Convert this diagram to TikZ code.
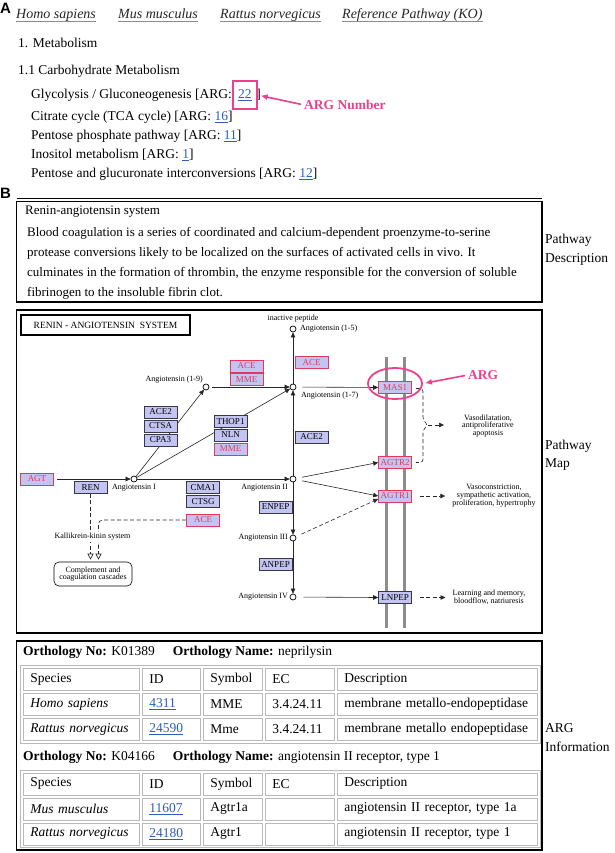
\documentclass[tikz,border=0pt]{standalone}
\usepackage{fontspec}
\setmainfont{Liberation Serif}
\newfontfamily\hdsans{Liberation Sans}
\usetikzlibrary{arrows.meta,backgrounds,fit,calc,shapes.geometric}
\definecolor{argpink}{RGB}{236,64,140}
\definecolor{argred}{RGB}{226,56,92}
\definecolor{enzfill}{RGB}{196,196,242}
\definecolor{enzline}{RGB}{55,55,75}
\definecolor{linkblue}{RGB}{45,95,185}
\definecolor{cellgray}{RGB}{185,185,185}
\definecolor{membrane}{RGB}{140,140,140}
\newcommand{\fsz}[1]{\fontsize{#1}{#1}\selectfont}
\newcommand{\lnk}[1]{\textcolor{linkblue}{\underline{#1}}}
\begin{document}
\begin{tikzpicture}[x=1pt,y=-1pt,
  every node/.style={inner sep=0pt},
  body/.style={anchor=base west,font=\fsz{13.5}},
  hdr/.style={anchor=base west,font=\fsz{14}\itshape,text=black!85},
  hline/.style={draw=black!45,line width=1pt},
  sec/.style={anchor=north west,font=\hdsans\bfseries\fsz{15}},
  panel/.style={draw=black,line width=1.8pt},
  side/.style={anchor=west,font=\fsz{13.5}},
  enz/.style={draw=enzline,fill=enzfill,line width=0.6pt,minimum width=33pt,minimum height=12pt,font=\fsz{9}},
  argenz/.style={enz,draw=argred,text=argred},
  cpd/.style={circle,draw=black,fill=white,line width=0.7pt,minimum size=6pt},
  clbl/.style={font=\fsz{8}},
  rx/.style={draw=black!85,line width=0.6pt,-{Triangle[length=5pt,width=4.5pt]}},
  dsh/.style={draw=black!85,line width=0.6pt,dash pattern=on 4pt off 2.5pt},
  opentri/.style={-{Triangle[open,length=6pt,width=6pt]}},
  pinkarr/.style={draw=argpink,line width=1.6pt,-{Latex[length=7pt,width=6pt]}},
  cell/.style={draw=cellgray,line width=0.8pt,anchor=north west,minimum height=22pt,font=\fsz{13.5},align=left,inner xsep=7pt,text width=#1},
  tblframe/.style={draw=cellgray,line width=0.8pt}
]
\useasboundingbox (0,0) rectangle (614,853);

% ---------------- Part A
\node[sec] (A) at (0,3) {A};
\node[hdr] (h1) at (16,18.5) {Homo sapiens};
\node[hdr] (h2) at (118,18.5) {Mus musculus};
\node[hdr] (h3) at (220,18.5) {Rattus norvegicus};
\node[hdr] (h4) at (342,18.5) {Reference Pathway (KO)};
\foreach \h in {h1,h2,h3,h4}
  \draw[hline] ($(\h.base west)+(0,3)$) -- ($(\h.base east)+(0,3)$);

\node[body] (m1) at (18,47.5) {1. Metabolism};
\node[body] (m11) at (18,74.5) {1.1 Carbohydrate Metabolism};
\node[body] (g1) at (31,98.5) {Glycolysis / Gluconeogenesis [ARG:};
\node[body] (g22) at ($(g1.base east)+(6,0)$) {\lnk{22}};
\node[body] (g1e) at ($(g22.base east)+(4.2,0)$) {]};
\node[fit=(g22),draw=argpink,line width=1.6pt,inner xsep=5pt,inner ysep=8.5pt] (box22) {};
\node[body] (c2) at (31,120.5) {Citrate cycle (TCA cycle) [ARG: \lnk{16}]};
\node[body] (c3) at (31,139.5) {Pentose phosphate pathway [ARG: \lnk{11}]};
\node[body] (c4) at (31,158.5) {Inositol metabolism [ARG: \lnk{1}]};
\node[body] (c5) at (31,177.5) {Pentose and glucuronate interconversions [ARG: \lnk{12}]};
\node[anchor=west,font=\fsz{13.5}\bfseries,text=argpink] (argnum) at (304,105) {ARG Number};
\draw[pinkarr,shorten <=3pt,shorten >=3pt] (argnum.west) -- (box22.east);

% ---------------- Part B : description
\node[sec] (B) at (0,188) {B};
\draw[line width=1pt] (16.5,198) -- (542,198);
\draw[panel] (16.5,201.5) rectangle (542,302);
\node[anchor=base west,font=\fsz{13}] (dtitle) at (25,214.5) {Renin-angiotensin system};
\node[anchor=base west,font=\fsz{13}] (d1) at (27,236.5) {Blood coagulation is a series of coordinated and calcium-dependent proenzyme-to-serine};
\node[anchor=base west,font=\fsz{13}] (d2) at (27,256.5) {protease conversions likely to be localized on the surfaces of activated cells in vivo. It};
\node[anchor=base west,font=\fsz{13}] (d3) at (27,276.5) {culminates in the formation of thrombin, the enzyme responsible for the conversion of soluble};
\node[anchor=base west,font=\fsz{13}] (d4) at (27,296.5) {fibrinogen to the insoluble fibrin clot.};
\node[side] (pd1) at (545,240) {Pathway};
\node[side] (pd2) at (545,259) {Description};

% ---------------- Pathway map
\draw[panel] (16.5,310) rectangle (542,633);
\node[side] (pm1) at (545,446) {Pathway};
\node[side] (pm2) at (545,465) {Map};

\node[draw,line width=1.3pt,minimum width=169pt,minimum height=20pt,font=\fsz{9.5}] (mtitle) at (105.5,325) {RENIN - ANGIOTENSIN\ \ SYSTEM};

\node[cpd] (c15) at (293,329) {};
\node[cpd] (c19) at (206,387) {};
\node[cpd] (c17) at (293,387) {};
\node[cpd] (cI) at (134,479) {};
\node[cpd] (cII) at (293,479) {};
\node[cpd] (cIII) at (293,538) {};
\node[cpd] (cIV) at (293,597) {};
\node[clbl,anchor=south] (inact) at ($(c15)+(0,-7)$) {inactive peptide};
\node[clbl,anchor=west] (l15) at ($(c15)+(7,0)$) {Angiotensin (1-5)};
\node[clbl,anchor=east] (l19) at ($(c19)+(-3,-7)$) {Angiotensin (1-9)};
\node[clbl,anchor=west] (l17) at ($(c17)+(8,9)$) {Angiotensin (1-7)};
\node[clbl,anchor=north] (lI) at ($(cI)+(0,5)$) {Angiotensin I};
\node[clbl,anchor=east] (lII) at ($(cII)+(-5,9)$) {Angiotensin II};
\node[clbl,anchor=east] (lIII) at ($(cIII)+(-5,0)$) {Angiotensin III};
\node[clbl,anchor=east] (lIV) at ($(cIV)+(-5,0)$) {Angiotensin IV};

\node[argenz] (ace1) at (311.5,362.5) {ACE};
\node[argenz] (ace2) at (246.5,366) {ACE};
\node[argenz] (mme1) at (246.5,379.5) {MME};
\node[enz] (ace2a) at (160.5,412) {ACE2};
\node[enz] (ctsa) at (160.5,426) {CTSA};
\node[enz] (cpa3) at (160.5,440) {CPA3};
\node[enz] (thop1) at (230.5,421.5) {THOP1};
\node[enz] (nln) at (230.5,435) {NLN};
\node[argenz] (mme2) at (230.5,449) {MME};
\node[enz] (ace2b) at (311.5,437) {ACE2};
\node[argenz] (agt) at (37,479) {AGT};
\node[enz] (ren) at (90.5,487.5) {REN};
\node[enz] (cma1) at (203,487.5) {CMA1};
\node[enz] (ctsg) at (203,501.5) {CTSG};
\node[argenz] (ace3) at (203,520) {ACE};
\node[enz] (enpep) at (275.5,507) {ENPEP};
\node[enz] (anpep) at (275.5,564.5) {ANPEP};
\node[argenz] (mas1) at (395,387.5) {MAS1};
\node[argenz] (agtr2) at (395,462.5) {AGTR2};
\node[argenz] (agtr1) at (395,496) {AGTR1};
\node[enz] (lnpep) at (395,597.5) {LNPEP};

\node[clbl,fill=white,inner sep=1pt] (kal) at (92.5,537) {Kallikrein-kinin system};
\node[draw,line width=0.6pt,rounded corners=5pt,minimum width=78pt,minimum height=24pt,align=center,font=\fontsize{8}{7.5}\selectfont] (compl) at (93,574) {Complement and\\coagulation cascades};
\node[align=center,font=\fontsize{8}{7.8}\selectfont] (vasod) at (488,426) {Vasodilatation,\\antiproliferative\\apoptosis};
\node[align=center,font=\fontsize{8}{8}\selectfont] (vasoc) at (494,495.5) {Vasoconstriction,\\sympathetic activation,\\proliferation, hypertrophy};
\node[align=center,font=\fontsize{8}{8}\selectfont] (learn) at (489,597) {Learning and memory,\\bloodflow, natriuresis};
\coordinate (brt) at (428,425);
\coordinate (bre) at (444,425);

\node[ellipse,draw=argpink,line width=1.8pt,minimum width=54pt,minimum height=31pt] (argell) at (395,383.5) {};
\node[anchor=west,font=\fsz{13.5}\bfseries,text=argpink] (argl) at (468,375) {ARG};
\draw[pinkarr,shorten <=3pt,shorten >=2pt] (argl.west) -- (argell.east);

\begin{scope}[on background layer]
\fill[white] (0,0) rectangle (614,853);
\draw[membrane,line width=3pt] (386,357) -- (386,628);
\draw[membrane,line width=3pt] (404,357) -- (404,628);
\draw[rx,shorten <=3pt] (agt) -- (cI);
\draw[rx] (cI) -- (cII);
\draw[rx] (cI) -- (c19);
\draw[rx] (cI) -- (c17);
\draw[rx,shorten <=3pt] (c19) -- (c17);
\draw[rx] (cII) -- (c17);
\draw[rx] (c17) -- (c15);
\draw[rx] (cII) -- (cIII);
\draw[rx] (cIII) -- (cIV);
\draw[rx,shorten <=6pt] (c17) -- (mas1.west);
\draw[rx,shorten <=6pt] (cII) -- (agtr2.west);
\draw[rx,shorten <=6pt] (cII) -- (agtr1.west);
\draw[rx,dsh,shorten <=6pt] (cIII) -- (agtr1.190);
\draw[rx,shorten <=7pt] (cIV) -- (lnpep.west);
\draw[rx,dsh,shorten <=8pt,shorten >=7pt] (agtr1.east) -- (vasoc.west |- agtr1.east);
\draw[rx,dsh,shorten <=8pt,shorten >=7pt] (lnpep.east) -- (learn.west |- lnpep.east);
\draw[dsh,rounded corners=3pt] ($(mas1.east)+(4,1)$) -| (423,420) -- (brt) -- (423,430) |- ($(agtr2.east)+(4,0)$);
\draw[rx,dsh] (brt) -- (bre);
\draw[dsh,opentri,shorten >=2pt] (ren.south) -- (ren.south |- compl.north);
\draw[dsh,opentri,shorten >=2pt,rounded corners=4pt] (ace3.west) -| ($(ren.south |- compl.north)+(8,0)$);
\end{scope}

% ---------------- ARG information
\draw[panel] (16.5,641) rectangle (542,850);
\node[side] (ai1) at (545,728) {ARG};
\node[side] (ai2) at (545,747) {Information};

\node[anchor=west,font=\fsz{13.5}] (o1) at (23,652) {\textbf{Orthology No:} K01389\hspace{18pt}\textbf{Orthology Name:} neprilysin};
\draw[tblframe] (20,665) rectangle (540,743);
\node[cell=102pt] (t1a1) at (23,668) {Species};
\node[cell=44pt] (t1b1) at (142,668) {ID};
\node[cell=45pt] (t1c1) at (203,668) {Symbol};
\node[cell=55pt] (t1d1) at (265,668) {EC};
\node[cell=186pt] (t1e1) at (337,668) {Description};
\node[cell=102pt] (t1a2) at (23,693) {\textit{Homo sapiens}};
\node[cell=44pt] (t1b2) at (142,693) {\lnk{4311}};
\node[cell=45pt] (t1c2) at (203,693) {MME};
\node[cell=55pt] (t1d2) at (265,693) {3.4.24.11};
\node[cell=186pt] (t1e2) at (337,693) {membrane metallo-endopeptidase};
\node[cell=102pt] (t1a3) at (23,718) {\textit{Rattus norvegicus}};
\node[cell=44pt] (t1b3) at (142,718) {\lnk{24590}};
\node[cell=45pt] (t1c3) at (203,718) {Mme};
\node[cell=55pt] (t1d3) at (265,718) {3.4.24.11};
\node[cell=186pt] (t1e3) at (337,718) {membrane metallo endopeptidase};

\node[anchor=west,font=\fsz{13.5}] (o2) at (23,757) {\textbf{Orthology No:} K04166\hspace{18pt}\textbf{Orthology Name:} angiotensin II receptor, type 1};
\draw[tblframe] (20,770) rectangle (540,847.5);
\node[cell=102pt] (t2a1) at (23,772.5) {Species};
\node[cell=44pt] (t2b1) at (142,772.5) {ID};
\node[cell=45pt] (t2c1) at (203,772.5) {Symbol};
\node[cell=55pt] (t2d1) at (265,772.5) {EC};
\node[cell=186pt] (t2e1) at (337,772.5) {Description};
\node[cell=102pt] (t2a2) at (23,797.5) {\textit{Mus musculus}};
\node[cell=44pt] (t2b2) at (142,797.5) {\lnk{11607}};
\node[cell=45pt] (t2c2) at (203,797.5) {Agtr1a};
\node[cell=55pt] (t2d2) at (265,797.5) {};
\node[cell=186pt] (t2e2) at (337,797.5) {angiotensin II receptor, type 1a};
\node[cell=102pt] (t2a3) at (23,822.5) {\textit{Rattus norvegicus}};
\node[cell=44pt] (t2b3) at (142,822.5) {\lnk{24180}};
\node[cell=45pt] (t2c3) at (203,822.5) {Agtr1};
\node[cell=55pt] (t2d3) at (265,822.5) {};
\node[cell=186pt] (t2e3) at (337,822.5) {angiotensin II receptor, type 1};
\end{tikzpicture}
\end{document}
